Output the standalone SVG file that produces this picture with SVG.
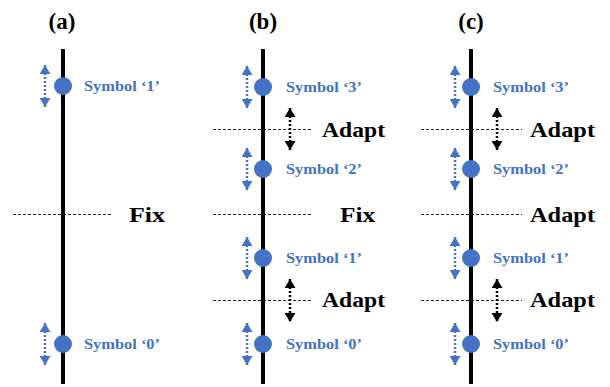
<svg xmlns="http://www.w3.org/2000/svg" width="610" height="387" viewBox="0 0 610 387">
<style>
.axis{stroke:#000;stroke-width:4;fill:none}
.dash{stroke:#222;stroke-width:1;stroke-dasharray:3 2;fill:none}
.barr{stroke:#4472C4;stroke-width:2.5;stroke-dasharray:2 2;fill:none;marker-start:url(#hb);marker-end:url(#hb)}
.karr{stroke:#000;stroke-width:2.5;stroke-dasharray:2 2;fill:none;marker-start:url(#hk);marker-end:url(#hk)}
.dot{fill:#4472C4}
.sym{font-family:"Liberation Serif","Times New Roman",serif;font-weight:bold;font-size:15.5px;fill:#4472C4}
.big{font-family:"Liberation Serif","Times New Roman",serif;font-weight:bold;font-size:22px;fill:#000}
.ttl{font-family:"Liberation Serif","Times New Roman",serif;font-weight:bold;font-size:23px;fill:#000;text-anchor:middle}
</style>
<defs>
<marker id="hb" markerUnits="userSpaceOnUse" markerWidth="10" markerHeight="11" viewBox="0 0 9 11" refX="9" refY="5.5" orient="auto-start-reverse"><path d="M0,0 L9,5.5 L0,11 z" fill="#4472C4"/></marker>
<marker id="hk" markerUnits="userSpaceOnUse" markerWidth="10" markerHeight="11" viewBox="0 0 9 11" refX="9" refY="5.5" orient="auto-start-reverse"><path d="M0,0 L9,5.5 L0,11 z" fill="#000"/></marker>
</defs>

<!-- titles -->
<text class="ttl" x="62" y="29">(a)</text>
<text class="ttl" x="263" y="29">(b)</text>
<text class="ttl" x="471" y="29">(c)</text>

<!-- axes and thresholds -->
<g id="axes">
<line class="axis" x1="63" y1="49" x2="63" y2="384"/>
<line class="axis" x1="263" y1="49" x2="263" y2="384"/>
<line class="axis" x1="471" y1="49" x2="471" y2="384"/>
<line class="dash" x1="13" y1="214.5" x2="112" y2="214.5"/>
<line class="dash" x1="213" y1="129.5" x2="313" y2="129.5"/>
<line class="dash" x1="213" y1="214.5" x2="313" y2="214.5"/>
<line class="dash" x1="213" y1="300.5" x2="313" y2="300.5"/>
<line class="dash" x1="421" y1="129.5" x2="522" y2="129.5"/>
<line class="dash" x1="421" y1="214.5" x2="522" y2="214.5"/>
<line class="dash" x1="421" y1="300.5" x2="522" y2="300.5"/>
</g>

<!-- connectors: movement arrows -->
<g id="connectors">
<line class="barr" x1="45" y1="65" x2="45" y2="107"/>
<line class="barr" x1="45" y1="323" x2="45" y2="365"/>
<line class="barr" x1="247" y1="66" x2="247" y2="108"/>
<line class="barr" x1="247" y1="148" x2="247" y2="190"/>
<line class="barr" x1="247" y1="237" x2="247" y2="279"/>
<line class="barr" x1="247" y1="323" x2="247" y2="365"/>
<line class="barr" x1="455" y1="66" x2="455" y2="108"/>
<line class="barr" x1="455" y1="148" x2="455" y2="190"/>
<line class="barr" x1="455" y1="237" x2="455" y2="279"/>
<line class="barr" x1="455" y1="323" x2="455" y2="365"/>
<line class="karr" x1="290" y1="108" x2="290" y2="150"/>
<line class="karr" x1="290" y1="279" x2="290" y2="322"/>
<line class="karr" x1="497" y1="108" x2="497" y2="150"/>
<line class="karr" x1="497" y1="279" x2="497" y2="322"/>
</g>

<!-- panel a nodes -->
<g id="a-sym1"><circle class="dot" cx="63" cy="86" r="9"/><text class="sym" x="84" y="91" textLength="76" lengthAdjust="spacingAndGlyphs">Symbol ‘1’</text></g>
<g id="a-sym0"><circle class="dot" cx="63" cy="344" r="9"/><text class="sym" x="84" y="349" textLength="76" lengthAdjust="spacingAndGlyphs">Symbol ‘0’</text></g>
<g id="a-fix"><text class="big" x="129" y="222" textLength="36" lengthAdjust="spacingAndGlyphs">Fix</text></g>

<!-- panel b nodes -->
<g id="b-sym3"><circle class="dot" cx="263" cy="87" r="9"/><text class="sym" x="286" y="92" textLength="76" lengthAdjust="spacingAndGlyphs">Symbol ‘3’</text></g>
<g id="b-sym2"><circle class="dot" cx="263" cy="169" r="9"/><text class="sym" x="286" y="174" textLength="76" lengthAdjust="spacingAndGlyphs">Symbol ‘2’</text></g>
<g id="b-sym1"><circle class="dot" cx="263" cy="258" r="9"/><text class="sym" x="286" y="263" textLength="76" lengthAdjust="spacingAndGlyphs">Symbol ‘1’</text></g>
<g id="b-sym0"><circle class="dot" cx="263" cy="344" r="9"/><text class="sym" x="286" y="349" textLength="76" lengthAdjust="spacingAndGlyphs">Symbol ‘0’</text></g>
<g id="b-adapt1"><text class="big" x="322" y="137" textLength="63" lengthAdjust="spacingAndGlyphs">Adapt</text></g>
<g id="b-fix"><text class="big" x="340" y="222" textLength="35" lengthAdjust="spacingAndGlyphs">Fix</text></g>
<g id="b-adapt2"><text class="big" x="322" y="307" textLength="63" lengthAdjust="spacingAndGlyphs">Adapt</text></g>

<!-- panel c nodes -->
<g id="c-sym3"><circle class="dot" cx="471" cy="87" r="9"/><text class="sym" x="493" y="92" textLength="76" lengthAdjust="spacingAndGlyphs">Symbol ‘3’</text></g>
<g id="c-sym2"><circle class="dot" cx="471" cy="169" r="9"/><text class="sym" x="493" y="174" textLength="76" lengthAdjust="spacingAndGlyphs">Symbol ‘2’</text></g>
<g id="c-sym1"><circle class="dot" cx="471" cy="258" r="9"/><text class="sym" x="493" y="263" textLength="76" lengthAdjust="spacingAndGlyphs">Symbol ‘1’</text></g>
<g id="c-sym0"><circle class="dot" cx="471" cy="344" r="9"/><text class="sym" x="493" y="349" textLength="76" lengthAdjust="spacingAndGlyphs">Symbol ‘0’</text></g>
<g id="c-adapt1"><text class="big" x="530" y="137" textLength="65" lengthAdjust="spacingAndGlyphs">Adapt</text></g>
<g id="c-adapt2"><text class="big" x="530" y="222" textLength="65" lengthAdjust="spacingAndGlyphs">Adapt</text></g>
<g id="c-adapt3"><text class="big" x="530" y="307" textLength="65" lengthAdjust="spacingAndGlyphs">Adapt</text></g>
</svg>
